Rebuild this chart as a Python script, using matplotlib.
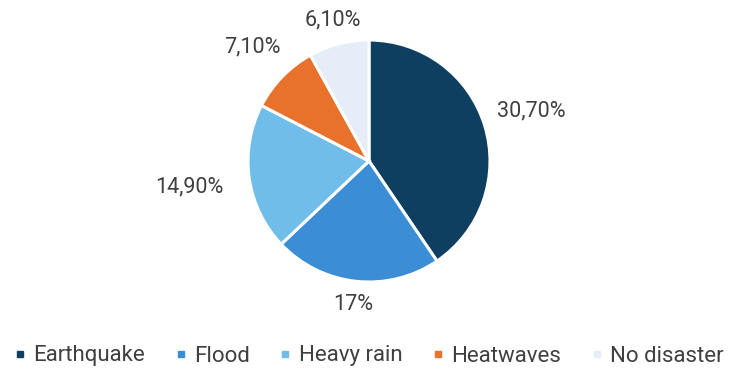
import numpy as np
import matplotlib
matplotlib.use("Agg")
from matplotlib import pyplot as plt
from matplotlib.lines import Line2D

# data
categories = ["Earthquake", "Flood", "Heavy rain", "Heatwaves", "No disaster"]
values = [30.70, 17, 14.90, 7.10, 6.10]
value_labels = ["30,70%", "17%", "14,90%", "7,10%", "6,10%"]
colors = ["#0f3f60", "#3b8dd5", "#6fbde8", "#e8712b", "#e4edf8"]

# layout (pixel coordinates)
W, H = 734, 369
cx, cy, r = 369, H - 161, 121
label_dist = [1.40, 1.19, 1.50, 1.35, 1.20]

plt.rcParams['font.family'] = ['Roboto', 'DejaVu Sans']

fig = plt.figure(figsize=(W / 100, H / 100), dpi=100)
ax = fig.add_axes([0, 0, 1, 1])
ax.set_xlim(0, W)
ax.set_ylim(0, H)
ax.set_aspect('equal')
ax.axis('off')

wedges, _ = ax.pie(values, colors=colors, startangle=90, counterclock=False,
                   center=(cx, cy), radius=r,
                   wedgeprops=dict(edgecolor='white', linewidth=2.2))
ax.set_xlim(0, W)
ax.set_ylim(0, H)

# labels outside each slice
for w, lab, d in zip(wedges, value_labels, label_dist):
    ang = np.deg2rad((w.theta1 + w.theta2) / 2)
    ax.text(cx + d * r * np.cos(ang), cy + d * r * np.sin(ang), lab,
            ha='center', va='center', fontsize=15.5, color='#404040')

handles = [Line2D([], [], marker='s', linestyle='none', markersize=4.5,
                  markerfacecolor=c, markeredgecolor=c) for c in colors]
fig.legend(handles, categories, loc='center', bbox_to_anchor=(0.502, 1 - 356 / H),
           ncol=5, frameon=False, fontsize=16, handletextpad=0.3,
           columnspacing=1.3, handlelength=0.6, labelcolor='#404040',
           borderaxespad=0, borderpad=0)

fig.savefig("out.png", dpi=100, facecolor='white')
